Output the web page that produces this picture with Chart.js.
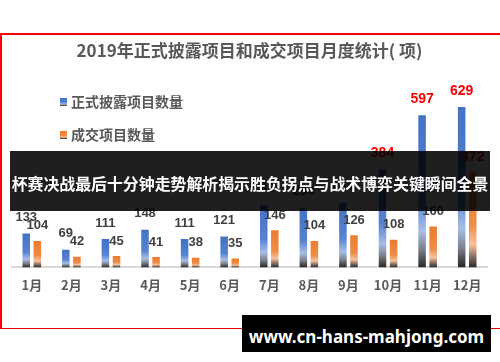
<!DOCTYPE html>
<html>
<head>
<meta charset="utf-8">
<script src="https://cdn.jsdelivr.net/npm/chart.js@4.4.1/dist/chart.umd.min.js"></script>
<style>
  body { margin: 0; background: #fff; }
  #wrap { position: relative; width: 500px; height: 362px; overflow: hidden; }
  #frame {
    position: absolute; left: 0; top: 33px; width: 540px; height: 293px;
    border-top: 2px solid #ff0000; border-left: 2px solid #ff0000; border-bottom: 1px solid #e00000;
  }
  #chart { position: absolute; left: 0; top: 0; }
  #banner {
    position: absolute; left: 10px; top: 151px; width: 480px; height: 60px;
    background: rgba(0, 0, 0, 0.88); color: #fff;
    font: bold 15.9px "Noto Sans CJK SC", sans-serif;
    line-height: 66px; text-align: center; white-space: nowrap;
  }
  #site {
    position: absolute; left: 242px; top: 315px; width: 249px; height: 37px;
    background: #000; color: #fff;
    font: bold 17px "Noto Sans", sans-serif;
    line-height: 44px; text-align: center; white-space: nowrap;
  }
</style>
</head>
<body>
<div id="wrap">
  <div id="frame"></div>
  <canvas id="chart" width="500" height="362"></canvas>
  <div id="banner">杯赛决战最后十分钟走势解析揭示胜负拐点与战术博弈关键瞬间全景</div>
  <div id="site">www.cn-hans-mahjong.com</div>
</div>
<script>
var months = ["1月", "2月", "3月", "4月", "5月", "6月", "7月", "8月", "9月", "10月", "11月", "12月"];
var disclosedData = [133, 69, 111, 148, 111, 121, 246, 234, 254, 384, 597, 629];
var tradedData = [104, 42, 45, 41, 38, 35, 146, 104, 126, 108, 160, 372];
var seriesNames = ["正式披露项目数量", "成交项目数量"];
var chartTitle = "2019年正式披露项目和成交项目月度统计( 项)";

var blueStops = [[0, "#4472c4"], [0.55, "#5583d0"], [0.76, "#a7bde6"], [0.88, "#7d818a"], [1, "#262626"]];
var orangeStops = [[0, "#eb7b2e"], [0.55, "#ee8c47"], [0.76, "#f6c29c"], [0.88, "#8c7464"], [1, "#2a2a2a"]];

// vertical gradient spanning each bar from its top to the axis
function barGradient(stops, solid) {
  return function (c) {
    var ch = c.chart;
    if (!ch.chartArea || c.raw === undefined) return solid;
    var y = ch.scales.y;
    var top = y.getPixelForValue(c.raw);
    var base = y.getPixelForValue(0);
    if (base - top < 1) return solid;
    var g = ch.ctx.createLinearGradient(0, top, 0, base);
    stops.forEach(function (s) { g.addColorStop(s[0], s[1]); });
    return g;
  };
}

function legendGradient(ctx, stops, y0, h) {
  var g = ctx.createLinearGradient(0, y0, 0, y0 + h);
  stops.forEach(function (s) { g.addColorStop(s[0], s[1]); });
  return g;
}

// value labels above bars, big values in red
var valueLabels = {
  id: "valueLabels",
  afterDatasetsDraw: function (chart) {
    var ctx = chart.ctx;
    ctx.save();
    ctx.textAlign = "center";
    ctx.textBaseline = "middle";
    chart.data.datasets.forEach(function (ds, i) {
      chart.getDatasetMeta(i).data.forEach(function (bar, j) {
        var v = ds.data[j];
        var big = v >= 300;
        ctx.fillStyle = big ? "#ff0000" : "#404040";
        ctx.font = "bold " + (big ? 14 : 13) + "px 'Liberation Sans', Arial, sans-serif";
        ctx.fillText(String(v), bar.x, bar.y - (i === 0 ? 16 : 15));
      });
    });
    ctx.restore();
  }
};

// legend drawn inside the plot, stacked at the upper left
var innerLegend = {
  id: "innerLegend",
  afterDraw: function (chart) {
    var ctx = chart.ctx;
    var a = chart.chartArea;
    var stops = [blueStops, orangeStops];
    ctx.save();
    ctx.font = "bold 14px 'Noto Sans CJK SC', sans-serif";
    ctx.textBaseline = "middle";
    chart.data.datasets.forEach(function (ds, i) {
      var cy = a.top + 22 + i * 33;
      ctx.fillStyle = legendGradient(ctx, stops[i], cy - 4, 8);
      ctx.fillRect(a.left + 48, cy - 4, 7, 8);
      ctx.fillStyle = "#595959";
      ctx.fillText(ds.label, a.left + 59, cy);
    });
    ctx.restore();
  }
};

new Chart(document.getElementById("chart").getContext("2d"), {
  type: "bar",
  data: {
    labels: months,
    datasets: [
      {
        label: seriesNames[0],
        data: disclosedData,
        backgroundColor: barGradient(blueStops, "#4472c4"),
        categoryPercentage: 0.56,
        barPercentage: 0.68
      },
      {
        label: seriesNames[1],
        data: tradedData,
        backgroundColor: barGradient(orangeStops, "#ed7d31"),
        categoryPercentage: 0.56,
        barPercentage: 0.68
      }
    ]
  },
  options: {
    responsive: false,
    animation: false,
    layout: { padding: { top: 34, left: 12, right: 13, bottom: 59 } },
    plugins: {
      legend: { display: false },
      tooltip: { enabled: false },
      title: {
        display: true,
        text: chartTitle,
        color: "#595959",
        font: { family: "'Noto Sans CJK SC', sans-serif", size: 17, weight: "bold" },
        padding: { top: 6, bottom: 19.6 }
      }
    },
    scales: {
      x: {
        grid: { display: false, drawTicks: false },
        border: { display: true, color: "#d9d9d9", width: 2 },
        ticks: {
          color: "#595959",
          padding: 10,
          font: { family: "'Noto Sans CJK SC', sans-serif", size: 13, weight: "bold" }
        }
      },
      y: {
        display: false,
        min: 0,
        max: 735
      }
    }
  },
  plugins: [valueLabels, innerLegend]
});
</script>
</body>
</html>
